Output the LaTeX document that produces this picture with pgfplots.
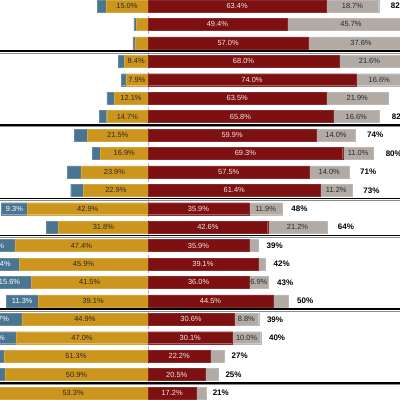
\documentclass[border=0pt]{standalone}
\usepackage{pgfplots}
\pgfplotsset{compat=1.18}
\usepackage{pgfplotstable}
\usepackage{fontspec}
\setmainfont{Liberation Sans}
\definecolor{cblue}{HTML}{4A7591}
\definecolor{cyel}{HTML}{CC961E}
\definecolor{cred}{HTML}{7D1111}
\definecolor{cgray}{HTML}{B2AAA5}
\definecolor{cdark}{HTML}{2A2A2A}
\definecolor{clight}{HTML}{F4E4E4}

\pgfplotstableread{
row blue yellow red gray tot
0  3.0  15.0 63.4 18.7 82
1  0.8  4.2  49.4 45.7 95
2  0.7  4.7  57.0 37.6 95
3  2.1  8.4  68.0 21.6 90
4  1.5  7.9  74.0 16.6 91
5  2.5  12.1 63.5 21.9 85
6  2.7  14.7 65.8 16.6 82
7  4.7  21.5 59.9 14.0 74
8  3.0  16.9 69.3 11.0 80
9  4.7  23.9 57.5 14.0 71
10 4.6  22.9 61.4 11.2 73
11 9.3  42.9 35.9 11.9 48
12 4.4  31.8 42.6 21.2 64
13 15.2 47.4 35.9 3.4  39
14 13.4 45.9 39.1 2.6  42
15 15.6 41.5 36.0 6.9  43
16 11.3 39.1 44.5 5.3  50
17 16.7 44.9 30.6 8.8  39
18 15.4 47.0 30.1 10.0 40
19 12.0 51.3 22.2 5.0  27
20 11.5 50.9 20.5 4.6  25
21 10.0 53.3 17.2 3.5  21
}\datatable

\pgfplotsset{
  base/.style={at={(0,0)}, anchor=south west, scale only axis,
    width=10cm, height=10cm, xmin=-52.67, xmax=89.68,
    ymin=-0.326, ymax=21.38, y dir=reverse, hide axis, clip=true,
    /pgf/number format/assume math mode=true},
  seglab/.style={only marks, mark=none, point meta=explicit,
    nodes near coords={\pgfmathprintnumber[fixed,fixed zerofill,precision=1,assume math mode=true]{\pgfplotspointmeta}\%},
    every node near coord/.append style={anchor=center, inner sep=0pt,
      font=\fontsize{5.3}{6}\selectfont, text=#1}},
}

\begin{document}
\begin{tikzpicture}
% background: zero line and group separators
\begin{axis}[base]
\addplot[densely dashed, color=black!30, line width=0.5pt] coordinates {(0,-1) (0,23)};
\addplot[black, line width=1.1pt] coordinates {(-60,2.456) (100,2.456)};
\addplot[black!45, line width=0.6pt] coordinates {(-60,2.56) (100,2.56)};
\addplot[black, line width=1.1pt] coordinates {(-60,6.456) (100,6.456)};
\addplot[black!45, line width=0.6pt] coordinates {(-60,6.56) (100,6.56)};
\addplot[black, line width=1.1pt] coordinates {(-60,10.456) (100,10.456)};
\addplot[black!45, line width=0.6pt] coordinates {(-60,10.56) (100,10.56)};
\addplot[black, line width=1.1pt] coordinates {(-60,12.456) (100,12.456)};
\addplot[black!45, line width=0.6pt] coordinates {(-60,12.56) (100,12.56)};
\addplot[black, line width=1.1pt] coordinates {(-60,16.456) (100,16.456)};
\addplot[black!45, line width=0.6pt] coordinates {(-60,16.56) (100,16.56)};
\addplot[black, line width=1.1pt] coordinates {(-60,20.456) (100,20.456)};
\addplot[black!45, line width=0.6pt] coordinates {(-60,20.56) (100,20.56)};
\end{axis}
% left stack
\begin{axis}[base, xbar stacked, bar width=0.65]
\addplot[fill=cyel, draw=cyel!85!white, line width=0.25pt] table[x expr=-\thisrow{yellow}, y=row]{\datatable};
\addplot[fill=cblue, draw=cblue!85!white, line width=0.25pt] table[x expr=-\thisrow{blue}, y=row]{\datatable};
\end{axis}
% right stack
\begin{axis}[base, xbar stacked, bar width=0.65]
\addplot[fill=cred, draw=cred!90!white, line width=0.25pt] table[x=red, y=row]{\datatable};
\addplot[fill=cgray, draw=cgray!85!white, line width=0.25pt] table[x=gray, y=row]{\datatable};
\end{axis}
% labels
\begin{axis}[base, clip=false]
\addplot[seglab=cdark] table[x expr={\thisrow{yellow}<6 ? nan : -\thisrow{yellow}/2}, y=row, meta=yellow]{\datatable};
\addplot[seglab=white] table[x expr={\thisrow{blue}<6 ? nan : -\thisrow{yellow}-\thisrow{blue}/2}, y=row, meta=blue]{\datatable};
\addplot[seglab=clight] table[x expr={\thisrow{red}/2}, y=row, meta=red]{\datatable};
\addplot[seglab=cdark] table[x expr={\thisrow{gray}<6 ? nan : \thisrow{red}+\thisrow{gray}/2}, y=row, meta=gray]{\datatable};
\addplot[only marks, mark=none, point meta=explicit,
  nodes near coords={\pgfmathprintnumber[fixed,precision=0,assume math mode=true]{\pgfplotspointmeta}\%},
  every node near coord/.append style={anchor=west, inner sep=0pt,
    font=\fontsize{5.7}{6}\selectfont\bfseries, text=black}]
  table[x expr={(\thisrow{red}+\thisrow{gray})*1.033+1.56}, y=row, meta=tot]{\datatable};
\end{axis}
\pgfresetboundingbox
\useasboundingbox (0,0) rectangle (10cm,10cm);
\end{tikzpicture}
\end{document}
